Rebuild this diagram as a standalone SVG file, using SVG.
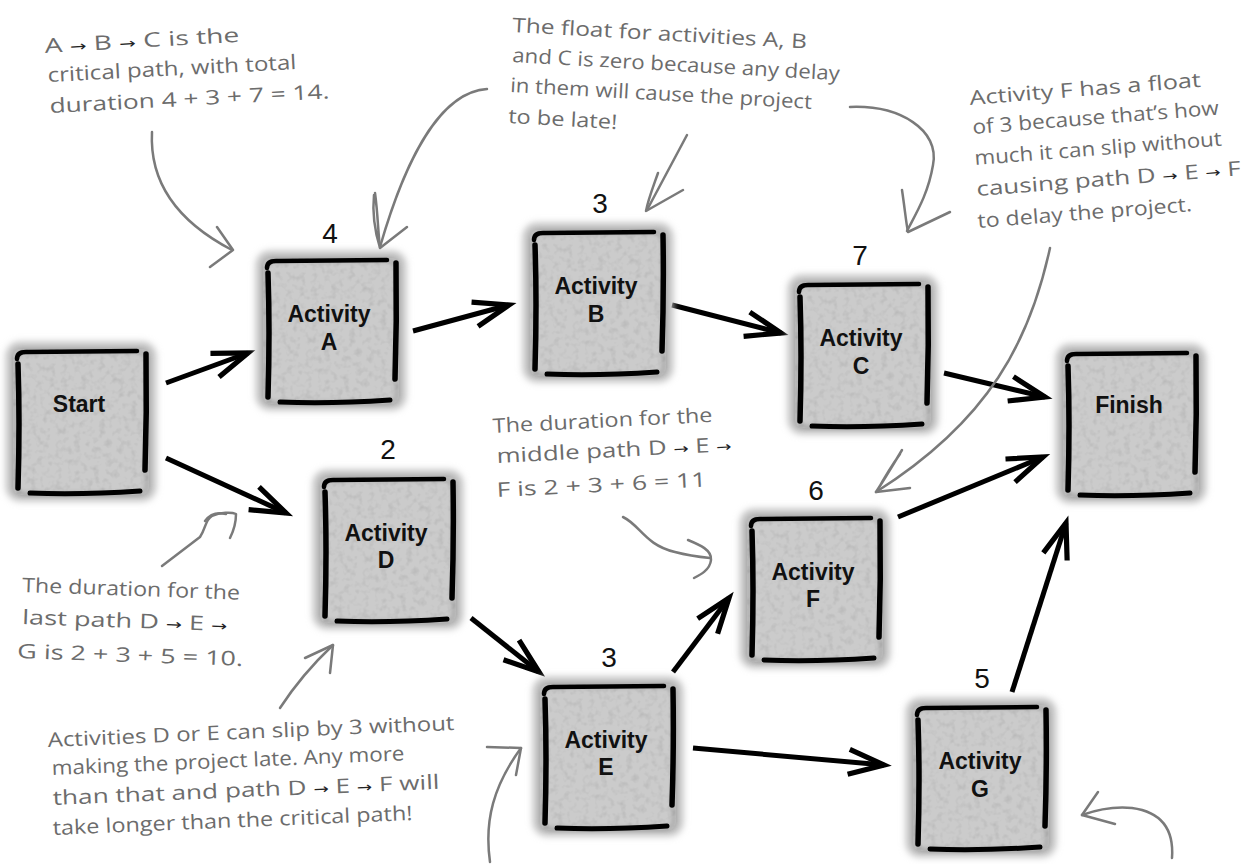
<svg xmlns="http://www.w3.org/2000/svg" xmlns:xlink="http://www.w3.org/1999/xlink" width="1256" height="864" viewBox="0 0 1256 864">
<style>
.nt{font-family:"Liberation Sans",Arial,sans-serif;font-weight:bold;font-size:23px;text-anchor:middle;fill:#111}
.num{font-family:"Liberation Sans",Arial,sans-serif;font-size:28px;text-anchor:middle;fill:#111}
.note{font-family:"Open Sans","Liberation Sans",sans-serif;font-size:20px;fill:#6c6c6c}
.ar{fill:#222;font-size:14px;font-family:"DejaVu Sans",sans-serif}
.ptr{fill:none;stroke:#7a7a7a;stroke-width:2.5;stroke-linecap:round;stroke-linejoin:round}
.conn{fill:none;stroke:#000;stroke-width:5;marker-end:url(#ah)}
.bd{fill:none;stroke:#000;stroke-linecap:round}
</style>
<defs>
<marker id="ah" markerUnits="userSpaceOnUse" markerWidth="50" markerHeight="50" viewBox="-40 -20 48 40" refX="0" refY="0" orient="auto">
<path d="M-34,-12 L0,0 L-34,12" fill="none" stroke="#000" stroke-width="5" stroke-linejoin="miter"/>
</marker>
<filter id="blur4" x="-20%" y="-20%" width="140%" height="140%"><feGaussianBlur stdDeviation="3.5"/></filter>
<filter id="blur2" x="-20%" y="-20%" width="140%" height="140%"><feGaussianBlur stdDeviation="2.2"/></filter>
<filter id="tex" x="-5%" y="-5%" width="110%" height="110%">
<feTurbulence type="fractalNoise" baseFrequency="0.16" numOctaves="2" seed="4" result="n"/>
<feColorMatrix in="n" type="matrix" values="0 0 0 0 0.4 0 0 0 0 0.4 0 0 0 0 0.4 1.3 0 0 0 -0.62" result="spk"/>
<feComposite in="spk" in2="SourceGraphic" operator="in" result="spk2"/>
<feMerge><feMergeNode in="SourceGraphic"/><feMergeNode in="spk2"/></feMerge>
</filter>
<g id="stone">
<rect x="-75" y="-80" width="150" height="159" rx="14" fill="#bdbdbd" filter="url(#blur4)"/>
<rect x="-68" y="-73" width="136" height="146" rx="8" fill="#cbcbcb" filter="url(#tex)"/>
<rect x="-66" y="-71" width="132" height="143" rx="8" fill="none" stroke="#5a5a5a" stroke-width="4" opacity="0.3" filter="url(#blur2)"/>
<path class="bd" d="M-64,-63 Q-64,-70 -55,-70 L56,-71" stroke-width="4.5"/>
<path class="bd" d="M-63,-58 Q-61,0 -63,66" stroke-width="5.5"/>
<path class="bd" d="M65,-68 Q66,-10 64,48" stroke-width="5.5"/>
<path d="M64,40 L64,60" stroke="#222" stroke-width="6" opacity="0.6" filter="url(#blur2)"/>
<path d="M40,-72 L60,-72" stroke="#222" stroke-width="6" opacity="0.5" filter="url(#blur2)"/>
<path class="bd" d="M-51,71 Q0,73 59,69" stroke-width="5"/>
</g>
</defs>
<rect width="1256" height="864" fill="#fff"/>

<g id="connectors">
<line class="conn" x1="166" y1="383" x2="248" y2="353"/>
<line class="conn" x1="166" y1="458" x2="286" y2="513"/>
<line class="conn" x1="413" y1="331" x2="509" y2="305"/>
<line class="conn" x1="672" y1="305" x2="781" y2="333"/>
<line class="conn" x1="944" y1="373" x2="1045" y2="397"/>
<line class="conn" x1="471" y1="618" x2="539" y2="672"/>
<line class="conn" x1="673" y1="672" x2="729" y2="598"/>
<line class="conn" x1="693" y1="748" x2="884" y2="765"/>
<line class="conn" x1="898" y1="517" x2="1043" y2="457"/>
<line class="conn" x1="1012" y1="692" x2="1066" y2="523"/>
</g>

<g id="node-start"><use xlink:href="#stone" x="81" y="422"/><text class="nt" x="79" y="412">Start</text></g>
<g id="node-a"><use xlink:href="#stone" x="331" y="331"/><text class="num" x="330" y="243">4</text><text class="nt" x="329" y="322">Activity</text><text class="nt" x="329" y="350">A</text></g>
<g id="node-b"><use xlink:href="#stone" x="598" y="303"/><text class="num" x="600" y="213">3</text><text class="nt" x="596" y="294">Activity</text><text class="nt" x="596" y="322">B</text></g>
<g id="node-c"><use xlink:href="#stone" x="863" y="355"/><text class="num" x="860" y="265">7</text><text class="nt" x="861" y="346">Activity</text><text class="nt" x="861" y="374">C</text></g>
<g id="node-finish"><use xlink:href="#stone" x="1131" y="424"/><text class="nt" x="1129" y="413">Finish</text></g>
<g id="node-d"><use xlink:href="#stone" x="388" y="550"/><text class="num" x="388" y="459">2</text><text class="nt" x="386" y="541">Activity</text><text class="nt" x="386" y="568">D</text></g>
<g id="node-e"><use xlink:href="#stone" x="608" y="757"/><text class="num" x="609" y="667">3</text><text class="nt" x="606" y="748">Activity</text><text class="nt" x="606" y="775">E</text></g>
<g id="node-f"><use xlink:href="#stone" x="815" y="589"/><text class="num" x="816" y="500">6</text><text class="nt" x="813" y="580">Activity</text><text class="nt" x="813" y="607">F</text></g>
<g id="node-g"><use xlink:href="#stone" x="981" y="778"/><text class="num" x="982" y="688">5</text><text class="nt" x="980" y="769">Activity</text><text class="nt" x="980" y="797">G</text></g>

<g id="note-critical">
<text class="note" x="45" y="53" transform="rotate(-3.3 45 53)" textLength="195" lengthAdjust="spacingAndGlyphs">A <tspan class="ar">→</tspan> B <tspan class="ar">→</tspan> C is the</text>
<text class="note" x="48" y="82" transform="rotate(-3 48 82)" textLength="249" lengthAdjust="spacingAndGlyphs">critical path, with total</text>
<text class="note" x="50" y="113" transform="rotate(-3 50 113)" textLength="280" lengthAdjust="spacingAndGlyphs">duration 4 + 3 + 7 = 14.</text>
<path class="ptr" d="M152,132 C150,170 165,215 232,250"/>
<path class="ptr" d="M217,227 L233,250 L210,267"/>
</g>

<g id="note-float-abc">
<text class="note" x="512" y="32" transform="rotate(3.2 512 32)" textLength="295" lengthAdjust="spacingAndGlyphs">The float for activities A, B</text>
<text class="note" x="512" y="62" transform="rotate(3.2 512 62)" textLength="328" lengthAdjust="spacingAndGlyphs">and C is zero because any delay</text>
<text class="note" x="510" y="92" transform="rotate(3.2 510 92)" textLength="302" lengthAdjust="spacingAndGlyphs">in them will cause the project</text>
<text class="note" x="508" y="123" transform="rotate(3.2 508 123)" textLength="109" lengthAdjust="spacingAndGlyphs">to be late!</text>
<path class="ptr" d="M487,89 C440,92 405,160 380,247"/>
<path class="ptr" d="M375,193 C378,215 378,232 380,248 M374,195 C372,215 376,235 380,248 L407,227"/>
<path class="ptr" d="M687,135 L647,210"/>
<path class="ptr" d="M658,173 C652,190 648,200 646,211 L683,190"/>
<path class="ptr" d="M850,107 C900,105 940,130 933,165 C928,195 915,215 907,231"/>
<path class="ptr" d="M902,190 C905,210 906,222 908,232 L950,212"/>
</g>

<g id="note-float-f">
<text class="note" x="970" y="105" transform="rotate(-4.5 970 105)" textLength="232" lengthAdjust="spacingAndGlyphs">Activity F has a float</text>
<text class="note" x="973" y="134" transform="rotate(-4.5 973 134)" textLength="247" lengthAdjust="spacingAndGlyphs">of 3 because that’s how</text>
<text class="note" x="975" y="165" transform="rotate(-4.5 975 165)" textLength="248" lengthAdjust="spacingAndGlyphs">much it can slip without</text>
<text class="note" x="977" y="196" transform="rotate(-4.5 977 196)" textLength="265" lengthAdjust="spacingAndGlyphs">causing path D <tspan class="ar">→</tspan> E <tspan class="ar">→</tspan> F</text>
<text class="note" x="978" y="228" transform="rotate(-4.5 978 228)" textLength="215" lengthAdjust="spacingAndGlyphs">to delay the project.</text>
<path class="ptr" d="M1050,248 C1030,340 990,420 876,492"/>
<path class="ptr" d="M902,450 C893,465 884,480 876,492 L910,488 M900,454 C890,468 882,482 877,491"/>
</g>

<g id="note-middle">
<text class="note" x="493" y="433" transform="rotate(-2.9 493 433)" textLength="220" lengthAdjust="spacingAndGlyphs">The duration for the</text>
<text class="note" x="497" y="463" transform="rotate(-2.9 497 463)" textLength="235" lengthAdjust="spacingAndGlyphs">middle path D <tspan class="ar">→</tspan> E <tspan class="ar">→</tspan></text>
<text class="note" x="497" y="497" transform="rotate(-2.9 497 497)" textLength="210" lengthAdjust="spacingAndGlyphs">F is 2 + 3 + 6 = 11</text>
<path class="ptr" d="M623,517 C640,525 645,545 675,552 C690,556 700,557 710,558"/>
<path class="ptr" d="M688,540 C700,545 712,550 711,560 C710,570 700,575 694,578"/>
</g>

<g id="note-last">
<text class="note" x="22" y="592" transform="rotate(2 22 592)" textLength="218" lengthAdjust="spacingAndGlyphs">The duration for the</text>
<text class="note" x="22" y="624" transform="rotate(2 22 624)" textLength="205" lengthAdjust="spacingAndGlyphs">last path D <tspan class="ar">→</tspan> E <tspan class="ar">→</tspan></text>
<text class="note" x="17" y="658" transform="rotate(2 17 658)" textLength="226" lengthAdjust="spacingAndGlyphs">G is 2 + 3 + 5 = 10.</text>
<path class="ptr" d="M162,566 L200,537 C206,528 205,520 212,516 C220,512 232,512 236,514 C236,522 234,530 230,538"/>
<path class="ptr" d="M205,521 C210,514 218,512 226,514"/>
</g>

<g id="note-slip">
<text class="note" x="48" y="747" transform="rotate(-2.4 48 747)" textLength="407" lengthAdjust="spacingAndGlyphs">Activities D or E can slip by 3 without</text>
<text class="note" x="52" y="775" transform="rotate(-2.4 52 775)" textLength="353" lengthAdjust="spacingAndGlyphs">making the project late. Any more</text>
<text class="note" x="53" y="805" transform="rotate(-2.4 53 805)" textLength="387" lengthAdjust="spacingAndGlyphs">than that and path D <tspan class="ar">→</tspan> E <tspan class="ar">→</tspan> F will</text>
<text class="note" x="53" y="835" transform="rotate(-2.4 53 835)" textLength="360" lengthAdjust="spacingAndGlyphs">take longer than the critical path!</text>
<path class="ptr" d="M280,708 C295,685 315,662 333,645"/>
<path class="ptr" d="M305,658 L333,645 L330,673"/>
<path class="ptr" d="M490,862 C484,820 494,785 521,748"/>
<path class="ptr" d="M487,747 L521,748 L516,775"/>
</g>

<g id="note-g">
<path class="ptr" d="M1172,858 C1174,830 1162,812 1132,808 C1112,806 1096,810 1082,815"/>
<path class="ptr" d="M1098,792 L1082,815 L1115,824"/>
</g>
</svg>
